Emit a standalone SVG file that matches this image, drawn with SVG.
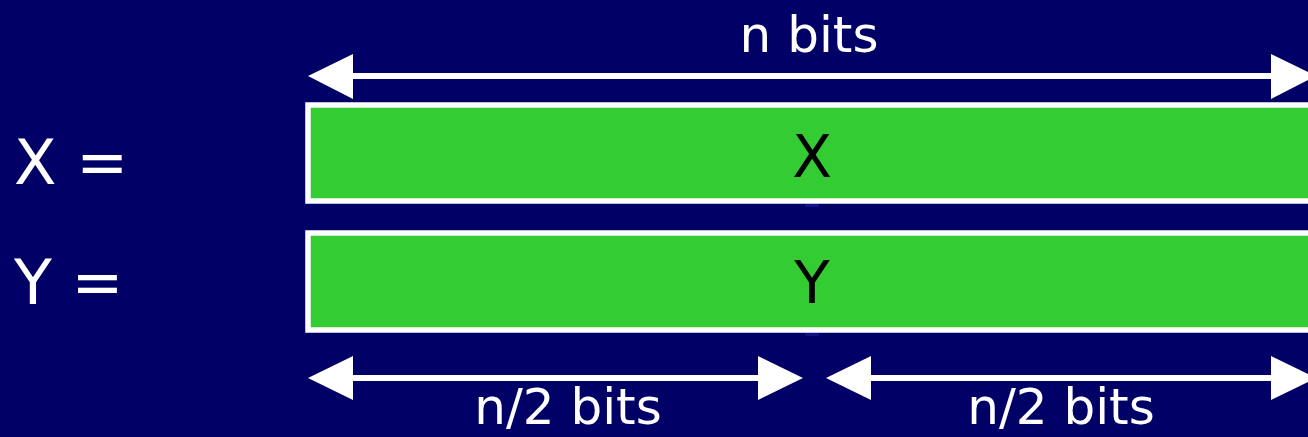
<svg xmlns="http://www.w3.org/2000/svg" width="1308" height="437" viewBox="0 0 1308 437">
  <style>
    .lbl { font-family: "Comic Sans MS", "DejaVu Sans", sans-serif; fill: #ffffff; }
    .in { font-family: "Comic Sans MS", "DejaVu Sans", sans-serif; fill: #000000; }
    .bar { fill: #33cc33; stroke: #ffffff; stroke-width: 5.5; }
    .shaft { stroke: #ffffff; stroke-width: 6; }
    .head { fill: #ffffff; }
  </style>
  <rect width="1308" height="437" fill="#000066"/>

  <!-- row labels -->
  <g id="label-x"><text class="lbl" x="14" y="184" font-size="62">X =</text></g>
  <g id="label-y"><text class="lbl" x="14" y="304" font-size="62">Y =</text></g>

  <!-- divider ticks at mid-point -->
  <rect x="805" y="204" width="14" height="3" fill="#101088"/>
  <rect x="805" y="333" width="14" height="3" fill="#101088"/>

  <!-- bit strings -->
  <g id="node-x">
    <rect class="bar" x="308" y="105" width="1020" height="96"/>
    <text class="in" x="812" y="177" font-size="58" text-anchor="middle">X</text>
  </g>
  <g id="node-y">
    <rect class="bar" x="308" y="233" width="1020" height="97"/>
    <text class="in" x="812" y="303" font-size="58" text-anchor="middle">Y</text>
  </g>

  <!-- dimension arrows -->
  <g id="connectors">
    <line class="shaft" x1="350" y1="76" x2="1275" y2="76"/>
    <polygon class="head" points="308,76 353,54 353,99"/>
    <polygon class="head" points="1316,76 1271,54 1271,99"/>

    <line class="shaft" x1="350" y1="378" x2="762" y2="378"/>
    <polygon class="head" points="308,378 353,356 353,400"/>
    <polygon class="head" points="803,378 758,356 758,400"/>

    <line class="shaft" x1="866" y1="378" x2="1275" y2="378"/>
    <polygon class="head" points="826,378 871,356 871,400"/>
    <polygon class="head" points="1316,378 1271,356 1271,400"/>
  </g>

  <!-- dimension labels -->
  <g id="label-n"><text class="lbl" x="809" y="52" font-size="50" text-anchor="middle">n bits</text></g>
  <g id="label-half-left"><text class="lbl" x="568" y="424" font-size="50" text-anchor="middle">n/2 bits</text></g>
  <g id="label-half-right"><text class="lbl" x="1061" y="424" font-size="50" text-anchor="middle">n/2 bits</text></g>
</svg>
